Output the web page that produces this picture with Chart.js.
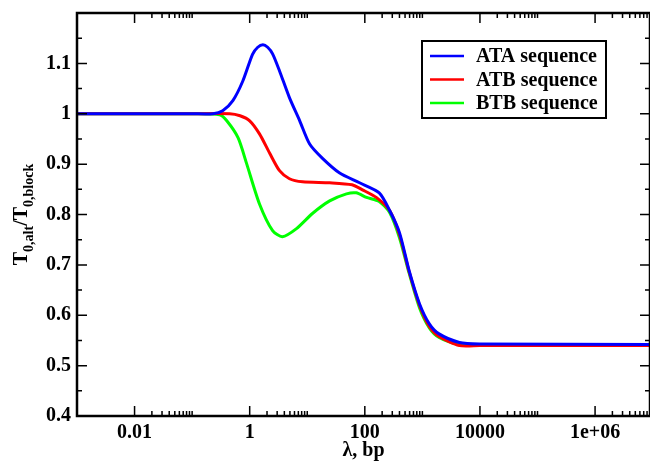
<!DOCTYPE html>
<html>
<head>
<meta charset="utf-8">
<script src="https://cdn.jsdelivr.net/npm/chart.js@4/dist/chart.umd.min.js"></script>
<style>
  html, body { margin: 0; padding: 0; background: #fff; overflow: hidden; font-family: "Liberation Serif", serif; }
  #wrap { width: 650px; height: 462px; position: relative; }
  #probe { position: absolute; left: -1000px; top: 0; font: bold 20px "Liberation Serif"; }
</style>
</head>
<body>
<div id="probe">T0,alt λ, bp 0.01</div>
<div id="wrap"><canvas id="chart"></canvas></div>
<script>
// values (x = lambda in bp, y = T0,alt / T0,block)
const ataX = [0.001, 0.1, 0.23, 0.34, 0.51, 0.76, 1.12, 1.38, 1.7, 2.05, 2.5, 3.3, 4.9, 7.4, 11, 18.6, 36, 81, 178, 270, 400, 590, 890, 1320, 1950, 4400, 9800, 1e7];
const ataY = [1, 1, 1.0, 1.006, 1.026, 1.065, 1.118, 1.132, 1.137, 1.132, 1.119, 1.085, 1.032, 0.986, 0.94, 0.911, 0.883, 0.863, 0.843, 0.808, 0.764, 0.688, 0.623, 0.583, 0.563, 0.546, 0.543, 0.542];

const atbX = [0.001, 0.1, 0.45, 0.68, 1, 1.48, 2.24, 3.3, 4.9, 8.3, 24.5, 60, 91, 158, 270, 400, 590, 890, 1320, 1950, 4400, 9800, 1e7];
const atbY = [1, 1, 1.0, 0.996, 0.986, 0.96, 0.921, 0.887, 0.871, 0.865, 0.863, 0.859, 0.849, 0.834, 0.808, 0.76, 0.686, 0.62, 0.578, 0.558, 0.540, 0.540, 0.540];

const btbX = [0.001, 0.1, 0.3, 0.4, 0.63, 0.89, 1.48, 2.5, 3.7, 6.5, 12.3, 24.5, 48, 71, 107, 178, 270, 400, 590, 890, 1320, 1950, 4400, 9800, 1e7];
const btbY = [1, 1, 0.998, 0.986, 0.952, 0.9, 0.821, 0.768, 0.756, 0.772, 0.802, 0.827, 0.841, 0.843, 0.834, 0.826, 0.804, 0.754, 0.683, 0.615, 0.575, 0.556, 0.542, 0.541, 0.541];

const seriesNames = ["ATA sequence", "ATB sequence", "BTB sequence"];
const seriesColors = ["#0000ff", "#ff0000", "#00ff00"];

const xMajorTicks = [0.01, 1, 100, 10000, 1000000];
const xTickLabels = ["0.01", "1", "100", "10000", "1e+06"];
const yTickValues = [0.4, 0.5, 0.6, 0.7, 0.8, 0.9, 1.0, 1.1];
const yTickLabels = ["0.4", "0.5", "0.6", "0.7", "0.8", "0.9", "1", "1.1"];

const FONT = "Liberation Serif";

function pts(xs, ys) {
    return xs.map((x, i) => ({ x: x, y: ys[i] }));
}

function noPad(s) {
    s.paddingTop = 0;
    s.paddingBottom = 0;
    s.paddingLeft = 0;
    s.paddingRight = 0;
}

// frame, inward ticks, titles and the boxed legend
const decorations = {
    id: "decorations",
    afterDraw(chart) {
        const ctx = chart.ctx;
        const a = chart.chartArea;
        const xs = chart.scales.x;
        const ys = chart.scales.y;
        ctx.save();
        ctx.strokeStyle = "#000";
        ctx.lineWidth = 2.5;
        ctx.strokeRect(a.left, a.top, a.right - a.left, a.bottom - a.top);

        ctx.lineWidth = 1.5;
        ctx.beginPath();
        xMajorTicks.forEach(v => {
            const px = xs.getPixelForValue(v);
            ctx.moveTo(px, a.bottom); ctx.lineTo(px, a.bottom - 10);
            ctx.moveTo(px, a.top); ctx.lineTo(px, a.top + 10);
            for (let m = 2; m <= 10; m++) {
                const mx = xs.getPixelForValue(v * m);
                ctx.moveTo(mx, a.bottom); ctx.lineTo(mx, a.bottom - 5);
                ctx.moveTo(mx, a.top); ctx.lineTo(mx, a.top + 5);
            }
        });
        for (let k = 0; k <= 16; k++) {
            const v = 0.4 + k * 0.05;
            const py = ys.getPixelForValue(v);
            const len = k % 2 === 0 ? 10 : 5;
            ctx.moveTo(a.left, py); ctx.lineTo(a.left + len, py);
            ctx.moveTo(a.right, py); ctx.lineTo(a.right - len, py);
        }
        ctx.stroke();

        // x title
        ctx.fillStyle = "#000";
        ctx.font = "bold 20px '" + FONT + "'";
        ctx.textAlign = "center";
        ctx.textBaseline = "alphabetic";
        ctx.fillText("\u03bb, bp", (a.left + a.right) / 2, 456);

        // y title with subscripts
        const parts = [
            ["T", 20, 0], ["0,alt", 14, 6], ["/", 20, 0], ["T", 20, 0], ["0,block", 14, 6]
        ];
        let total = 0;
        parts.forEach(p => { ctx.font = "bold " + p[1] + "px '" + FONT + "'"; total += ctx.measureText(p[0]).width; });
        ctx.translate(27, (a.top + a.bottom) / 2);
        ctx.rotate(-Math.PI / 2);
        ctx.textAlign = "left";
        let cx = -total / 2;
        parts.forEach(p => {
            ctx.font = "bold " + p[1] + "px '" + FONT + "'";
            ctx.fillText(p[0], cx, p[2]);
            cx += ctx.measureText(p[0]).width;
        });
        ctx.restore();

        // legend box
        ctx.save();
        ctx.fillStyle = "#fff";
        ctx.fillRect(422, 41, 184, 77);
        ctx.strokeStyle = "#000";
        ctx.lineWidth = 2;
        ctx.strokeRect(422, 41, 184, 77);
        ctx.font = "bold 20px '" + FONT + "'";
        ctx.textBaseline = "middle";
        ctx.textAlign = "left";
        chart.data.datasets.forEach((ds, i) => {
            const ly = 56 + i * 23.5;
            ctx.strokeStyle = ds.borderColor;
            ctx.lineWidth = 2.5;
            ctx.beginPath();
            ctx.moveTo(430, ly); ctx.lineTo(464, ly);
            ctx.stroke();
            ctx.fillStyle = "#000";
            ctx.fillText(ds.label, 476, ly + 1);
        });
        ctx.restore();
    }
};

function draw() {
    new Chart(document.getElementById("chart"), {
        type: "line",
        data: {
            datasets: [
                { label: seriesNames[0], data: pts(ataX, ataY), borderColor: seriesColors[0] },
                { label: seriesNames[1], data: pts(atbX, atbY), borderColor: seriesColors[1] },
                { label: seriesNames[2], data: pts(btbX, btbY), borderColor: seriesColors[2] }
            ]
        },
        options: {
            responsive: true,
            maintainAspectRatio: false,
            animation: false,
            devicePixelRatio: 1,
            layout: { padding: { left: 0, right: 0, top: 13, bottom: 0 } },
            elements: {
                point: { radius: 0 },
                line: { borderWidth: 3, tension: 0.25, fill: false }
            },
            plugins: { legend: { display: false }, tooltip: { enabled: false } },
            scales: {
                x: {
                    type: "logarithmic",
                    min: 0.001,
                    max: 9e6,
                    afterBuildTicks: s => { s.ticks = xMajorTicks.map(v => ({ value: v })); },
                    afterFit: s => { s.height = 46; noPad(s); },
                    grid: { display: false, drawTicks: false },
                    border: { display: false },
                    ticks: {
                        autoSkip: false,
                        maxRotation: 0,
                        padding: 5,
                        color: "#000",
                        font: { family: FONT, size: 20, weight: "bold" },
                        callback: (v) => xTickLabels[xMajorTicks.indexOf(v)]
                    }
                },
                y: {
                    type: "linear",
                    min: 0.4,
                    max: 1.2,
                    afterBuildTicks: s => { s.ticks = yTickValues.map(v => ({ value: v })); },
                    afterFit: s => { s.width = 77; noPad(s); },
                    grid: { display: false, drawTicks: false },
                    border: { display: false },
                    ticks: {
                        autoSkip: false,
                        padding: 6,
                        color: "#000",
                        font: { family: FONT, size: 20, weight: "bold" },
                        callback: (v, i) => yTickLabels[i]
                    }
                }
            }
        },
        plugins: [decorations]
    });
}

document.fonts.load("bold 20px 'Liberation Serif'").then(draw, draw);
</script>
</body>
</html>
